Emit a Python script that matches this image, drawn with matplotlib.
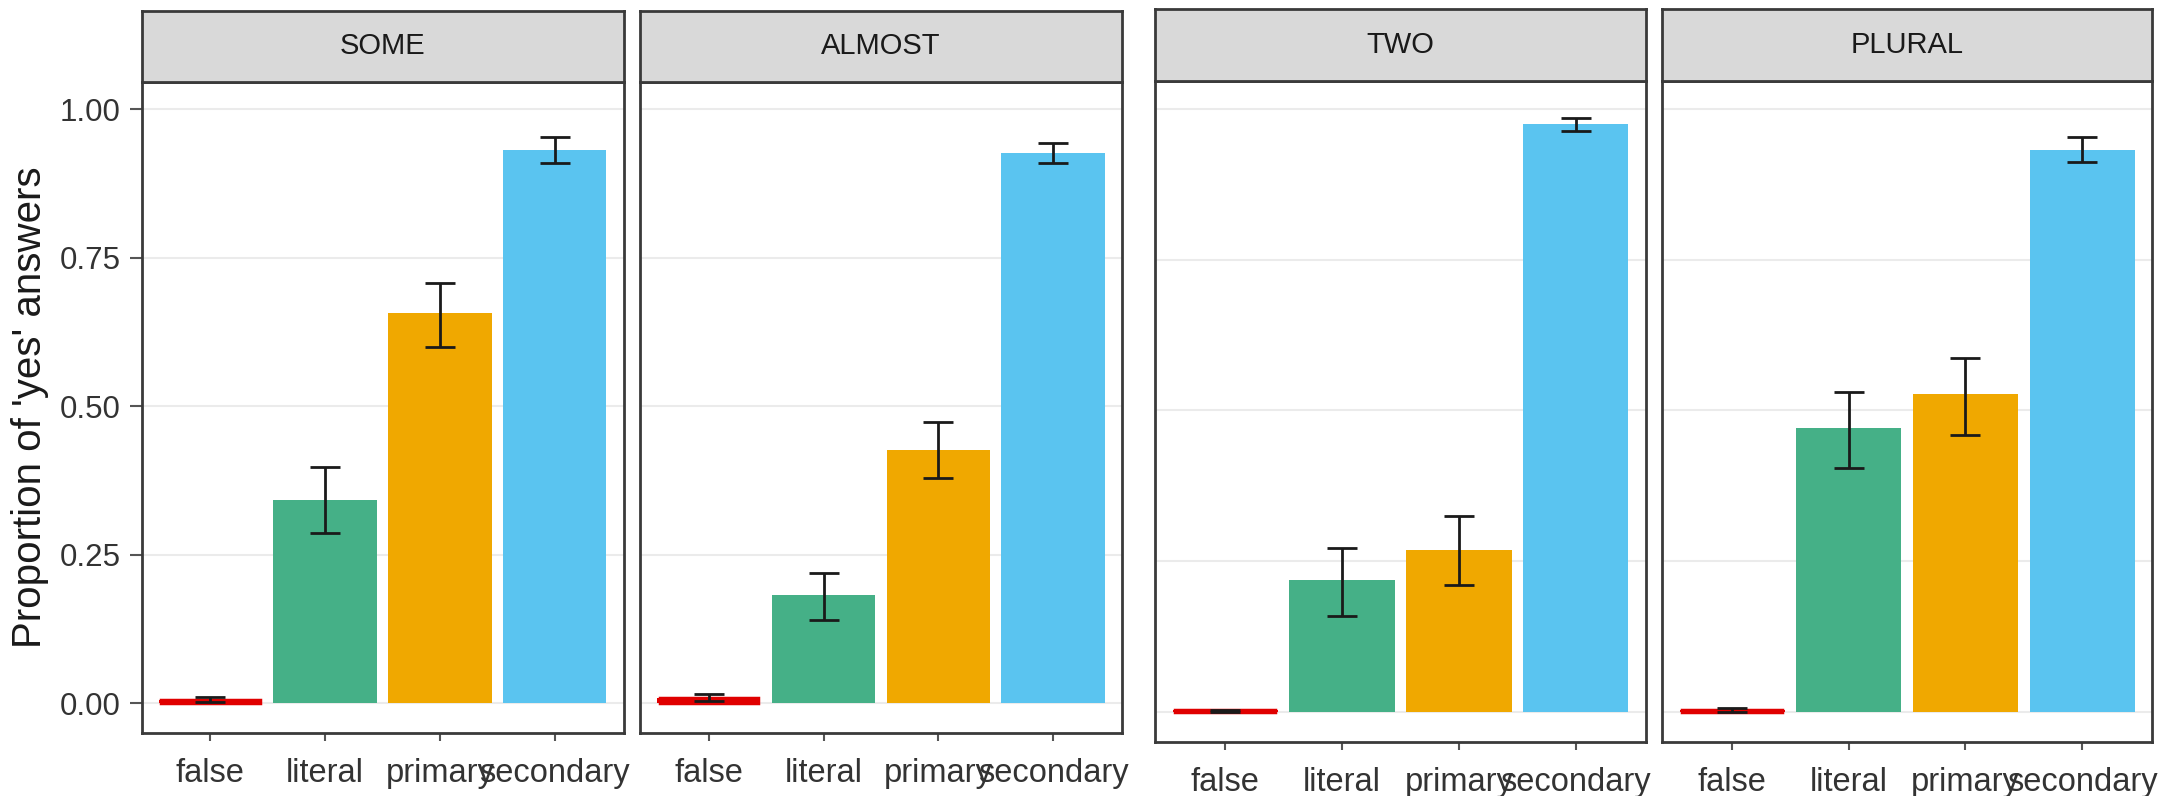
import matplotlib
matplotlib.use("Agg")
import matplotlib.pyplot as plt
import numpy as np

plt.rcParams['font.family'] = ['Liberation Sans', 'DejaVu Sans']

# data
categories = ['false', 'literal', 'primary', 'secondary']
panels = ['SOME', 'ALMOST', 'TWO', 'PLURAL']

some_mean = [0.006, 0.343, 0.657, 0.931]
some_lo = [0.002, 0.286, 0.600, 0.909]
some_hi = [0.011, 0.398, 0.708, 0.953]

almost_mean = [0.009, 0.183, 0.427, 0.926]
almost_lo = [0.004, 0.141, 0.380, 0.909]
almost_hi = [0.016, 0.219, 0.474, 0.943]

two_mean = [0.003, 0.218, 0.269, 0.975]
two_lo = [0.000, 0.159, 0.211, 0.963]
two_hi = [0.003, 0.272, 0.324, 0.985]

plural_mean = [0.003, 0.470, 0.527, 0.932]
plural_lo = [0.000, 0.404, 0.459, 0.912]
plural_hi = [0.006, 0.530, 0.586, 0.953]

yticks = [0.0, 0.25, 0.5, 0.75, 1.0]
ytick_labels = ['0.00', '0.25', '0.50', '0.75', '1.00']

colors = ['#E00000', '#45B087', '#F0A800', '#5AC4F0']

W, H = 2177, 796
fig = plt.figure(figsize=(W / 100, H / 100), dpi=100)

# pixel boxes: (left, right, strip_top, panel_top, panel_bottom)
boxes = [
    (141.5, 623.5, 11, 82, 733),
    (640, 1122, 11, 82, 733),
    (1155, 1646, 9, 81, 742),
    (1662, 2152, 9, 81, 742),
]
means = [some_mean, almost_mean, two_mean, plural_mean]
los = [some_lo, almost_lo, two_lo, plural_lo]
his = [some_hi, almost_hi, two_hi, plural_hi]

border = '#3a3a3a'

for i, (name, box) in enumerate(zip(panels, boxes)):
    x0, x1, st, pt, pb = box
    ax = fig.add_axes([x0 / W, 1 - pb / H, (x1 - x0) / W, (pb - pt) / H])
    sax = fig.add_axes([x0 / W, 1 - pt / H, (x1 - x0) / W, (pt - st) / H])

    x = np.arange(1, len(categories) + 1)
    m = np.array(means[i])
    lo = np.array(los[i])
    hi = np.array(his[i])

    ax.bar(x, m, width=0.9, color=colors, zorder=2)
    # false bar is almost flat: give it a red outline so it shows
    ax.bar(x[0], m[0], width=0.86, color=colors[0], edgecolor=colors[0], linewidth=2.5, zorder=2)
    ax.errorbar(x, m, yerr=[m - lo, hi - m], fmt='none', ecolor='#1a1a1a',
                elinewidth=2, capsize=10.5, capthick=2, zorder=3)

    ax.set_xlim(0.4, 4.6)
    ax.set_ylim(-0.05, 1.046)
    ax.set_yticks(yticks)
    ax.set_xticks(x)
    ax.set_xticklabels(categories, fontsize=23.5, color='#333333')
    ax.grid(axis='y', color='#ebebeb', linewidth=1.5, zorder=0)
    ax.set_axisbelow(True)
    for sp in ax.spines.values():
        sp.set_color(border)
        sp.set_linewidth(2)
    ax.tick_params(axis='x', length=6, width=1.5, color='#555555', pad=12)
    if i == 0:
        ax.set_yticklabels(ytick_labels, fontsize=22.5, color='#333333')
        ax.tick_params(axis='y', length=9, width=1.5, color='#555555', pad=6)
        ax.set_ylabel("Proportion of 'yes' answers", fontsize=29, color='#1a1a1a', labelpad=8)
    else:
        ax.tick_params(axis='y', length=0, labelleft=False)

    sax.set_facecolor('#d9d9d9')
    sax.set_xticks([])
    sax.set_yticks([])
    for sp in sax.spines.values():
        sp.set_color(border)
        sp.set_linewidth(2)
    sax.text(0.5, 0.5, name, ha='center', va='center', fontsize=21, color='#1a1a1a',
             transform=sax.transAxes)

fig.savefig('out.png', dpi=100)
